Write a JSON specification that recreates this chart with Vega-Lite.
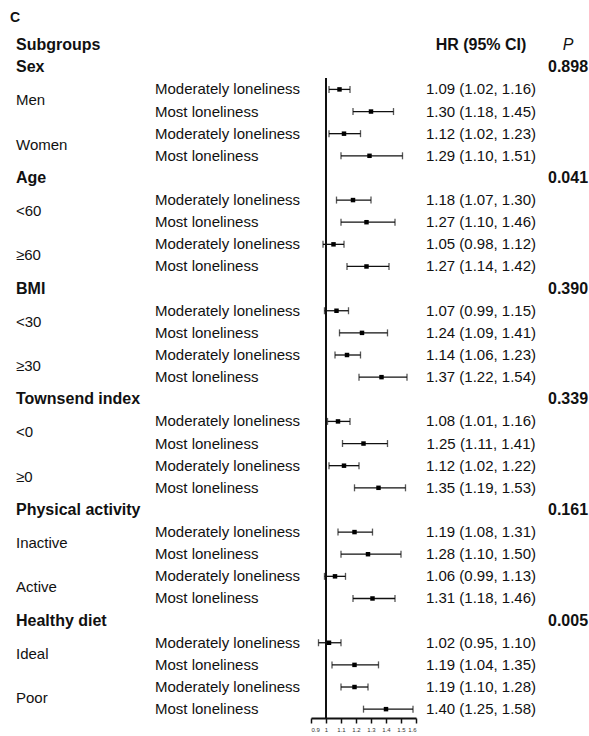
{
  "$schema": "https://vega.github.io/schema/vega-lite/v6.json",
  "padding": {"top": 11, "left": 0, "right": 0, "bottom": 0},
  "background": "white",
  "title": {"text": "C", "anchor": "start", "fontSize": 14, "fontWeight": "bold", "font": "Liberation Sans", "color": "#111", "dx": 10, "dy": 2, "offset": 0},
  "config": {
    "view": {"stroke": null},
    "text": {"font": "Liberation Sans", "color": "#111", "baseline": "middle"},
    "concat": {"spacing": 0}
  },
  "datasets": {
    "rows": [
      {"row": 0, "kind": "header", "section": "Subgroups"},
      {"row": 1, "kind": "section", "section": "Sex", "p": "0.898"},
      {"row": 2, "kind": "est", "section": "Sex", "group": "Men", "category": "Moderately loneliness", "hr": 1.09, "lo": 1.02, "hi": 1.16, "label": "1.09 (1.02, 1.16)"},
      {"row": 3, "kind": "est", "section": "Sex", "group": "Men", "category": "Most loneliness", "hr": 1.30, "lo": 1.18, "hi": 1.45, "label": "1.30 (1.18, 1.45)"},
      {"row": 4, "kind": "est", "section": "Sex", "group": "Women", "category": "Moderately loneliness", "hr": 1.12, "lo": 1.02, "hi": 1.23, "label": "1.12 (1.02, 1.23)"},
      {"row": 5, "kind": "est", "section": "Sex", "group": "Women", "category": "Most loneliness", "hr": 1.29, "lo": 1.10, "hi": 1.51, "label": "1.29 (1.10, 1.51)"},
      {"row": 6, "kind": "section", "section": "Age", "p": "0.041"},
      {"row": 7, "kind": "est", "section": "Age", "group": "<60", "category": "Moderately loneliness", "hr": 1.18, "lo": 1.07, "hi": 1.30, "label": "1.18 (1.07, 1.30)"},
      {"row": 8, "kind": "est", "section": "Age", "group": "<60", "category": "Most loneliness", "hr": 1.27, "lo": 1.10, "hi": 1.46, "label": "1.27 (1.10, 1.46)"},
      {"row": 9, "kind": "est", "section": "Age", "group": "≥60", "category": "Moderately loneliness", "hr": 1.05, "lo": 0.98, "hi": 1.12, "label": "1.05 (0.98, 1.12)"},
      {"row": 10, "kind": "est", "section": "Age", "group": "≥60", "category": "Most loneliness", "hr": 1.27, "lo": 1.14, "hi": 1.42, "label": "1.27 (1.14, 1.42)"},
      {"row": 11, "kind": "section", "section": "BMI", "p": "0.390"},
      {"row": 12, "kind": "est", "section": "BMI", "group": "<30", "category": "Moderately loneliness", "hr": 1.07, "lo": 0.99, "hi": 1.15, "label": "1.07 (0.99, 1.15)"},
      {"row": 13, "kind": "est", "section": "BMI", "group": "<30", "category": "Most loneliness", "hr": 1.24, "lo": 1.09, "hi": 1.41, "label": "1.24 (1.09, 1.41)"},
      {"row": 14, "kind": "est", "section": "BMI", "group": "≥30", "category": "Moderately loneliness", "hr": 1.14, "lo": 1.06, "hi": 1.23, "label": "1.14 (1.06, 1.23)"},
      {"row": 15, "kind": "est", "section": "BMI", "group": "≥30", "category": "Most loneliness", "hr": 1.37, "lo": 1.22, "hi": 1.54, "label": "1.37 (1.22, 1.54)"},
      {"row": 16, "kind": "section", "section": "Townsend index", "p": "0.339"},
      {"row": 17, "kind": "est", "section": "Townsend index", "group": "<0", "category": "Moderately loneliness", "hr": 1.08, "lo": 1.01, "hi": 1.16, "label": "1.08 (1.01, 1.16)"},
      {"row": 18, "kind": "est", "section": "Townsend index", "group": "<0", "category": "Most loneliness", "hr": 1.25, "lo": 1.11, "hi": 1.41, "label": "1.25 (1.11, 1.41)"},
      {"row": 19, "kind": "est", "section": "Townsend index", "group": "≥0", "category": "Moderately loneliness", "hr": 1.12, "lo": 1.02, "hi": 1.22, "label": "1.12 (1.02, 1.22)"},
      {"row": 20, "kind": "est", "section": "Townsend index", "group": "≥0", "category": "Most loneliness", "hr": 1.35, "lo": 1.19, "hi": 1.53, "label": "1.35 (1.19, 1.53)"},
      {"row": 21, "kind": "section", "section": "Physical activity", "p": "0.161"},
      {"row": 22, "kind": "est", "section": "Physical activity", "group": "Inactive", "category": "Moderately loneliness", "hr": 1.19, "lo": 1.08, "hi": 1.31, "label": "1.19 (1.08, 1.31)"},
      {"row": 23, "kind": "est", "section": "Physical activity", "group": "Inactive", "category": "Most loneliness", "hr": 1.28, "lo": 1.10, "hi": 1.50, "label": "1.28 (1.10, 1.50)"},
      {"row": 24, "kind": "est", "section": "Physical activity", "group": "Active", "category": "Moderately loneliness", "hr": 1.06, "lo": 0.99, "hi": 1.13, "label": "1.06 (0.99, 1.13)"},
      {"row": 25, "kind": "est", "section": "Physical activity", "group": "Active", "category": "Most loneliness", "hr": 1.31, "lo": 1.18, "hi": 1.46, "label": "1.31 (1.18, 1.46)"},
      {"row": 26, "kind": "section", "section": "Healthy diet", "p": "0.005"},
      {"row": 27, "kind": "est", "section": "Healthy diet", "group": "Ideal", "category": "Moderately loneliness", "hr": 1.02, "lo": 0.95, "hi": 1.10, "label": "1.02 (0.95, 1.10)"},
      {"row": 28, "kind": "est", "section": "Healthy diet", "group": "Ideal", "category": "Most loneliness", "hr": 1.19, "lo": 1.04, "hi": 1.35, "label": "1.19 (1.04, 1.35)"},
      {"row": 29, "kind": "est", "section": "Healthy diet", "group": "Poor", "category": "Moderately loneliness", "hr": 1.19, "lo": 1.10, "hi": 1.28, "label": "1.19 (1.10, 1.28)"},
      {"row": 30, "kind": "est", "section": "Healthy diet", "group": "Poor", "category": "Most loneliness", "hr": 1.40, "lo": 1.25, "hi": 1.58, "label": "1.40 (1.25, 1.58)"}
    ]
  },
  "hconcat": [
    {
      "width": 155, "height": 695,
      "data": {"name": "rows"},
      "layer": [
        {
          "transform": [{"filter": "datum.kind !== 'est'"}],
          "mark": {"type": "text", "align": "left", "x": 16, "fontSize": 16, "fontWeight": "bold"},
          "encoding": {
            "y": {"field": "row", "type": "quantitative", "scale": {"domain": [-1, 30.4], "reverse": true, "nice": false, "zero": false}, "axis": null},
            "text": {"field": "section"}
          }
        },
        {
          "transform": [
            {"filter": "datum.kind === 'est'"},
            {"aggregate": [{"op": "mean", "field": "row", "as": "mid"}], "groupby": ["section", "group"]}
          ],
          "mark": {"type": "text", "align": "left", "x": 16, "fontSize": 15},
          "encoding": {
            "y": {"field": "mid", "type": "quantitative", "scale": {"domain": [-1, 30.4], "reverse": true, "nice": false, "zero": false}, "axis": null},
            "text": {"field": "group"}
          }
        }
      ]
    },
    {
      "width": 155, "height": 695,
      "data": {"name": "rows"},
      "transform": [{"filter": "datum.kind === 'est'"}],
      "mark": {"type": "text", "align": "left", "x": 0, "fontSize": 15},
      "encoding": {
        "y": {"field": "row", "type": "quantitative", "scale": {"domain": [-1, 30.4], "reverse": true, "nice": false, "zero": false}, "axis": null},
        "text": {"field": "category"}
      }
    },
    {
      "width": 105, "height": 695,
      "data": {"name": "rows"},
      "layer": [
        {
          "mark": {"type": "rule", "color": "#111", "strokeWidth": 1.6},
          "encoding": {
            "x": {"datum": 1, "type": "quantitative"},
            "y": {"datum": 1.5, "type": "quantitative"},
            "y2": {"datum": 30.4}
          }
        },
        {
          "transform": [{"filter": "datum.kind === 'est'"}],
          "mark": {"type": "rule", "color": "#111", "strokeWidth": 1.3},
          "encoding": {
            "x": {"field": "lo", "type": "quantitative"},
            "x2": {"field": "hi"},
            "y": {"field": "row", "type": "quantitative"}
          }
        },
        {
          "transform": [{"filter": "datum.kind === 'est'"}],
          "mark": {"type": "tick", "orient": "vertical", "color": "#111", "size": 7, "thickness": 1.3},
          "encoding": {
            "x": {"field": "lo", "type": "quantitative"},
            "y": {"field": "row", "type": "quantitative"}
          }
        },
        {
          "transform": [{"filter": "datum.kind === 'est'"}],
          "mark": {"type": "tick", "orient": "vertical", "color": "#111", "size": 7, "thickness": 1.3},
          "encoding": {
            "x": {"field": "hi", "type": "quantitative"},
            "y": {"field": "row", "type": "quantitative"}
          }
        },
        {
          "transform": [{"filter": "datum.kind === 'est'"}],
          "mark": {"type": "square", "color": "#000", "filled": true, "opacity": 1, "size": 20},
          "encoding": {
            "x": {"field": "hr", "type": "quantitative"},
            "y": {"field": "row", "type": "quantitative"}
          }
        }
      ],
      "encoding": {
        "x": {
          "type": "quantitative",
          "scale": {"domain": [0.9, 1.6], "nice": false, "zero": false},
          "axis": {"values": [0.9, 1, 1.1, 1.2, 1.3, 1.4, 1.5, 1.6], "format": ".1~f", "title": null, "grid": false, "domainColor": "#111", "domainWidth": 1.8, "tickColor": "#111", "tickWidth": 1.5, "tickSize": 5, "labelFontSize": 6, "labelColor": "#333", "labelFont": "Liberation Sans", "labelPadding": 3}
        },
        "y": {"type": "quantitative", "scale": {"domain": [-1, 30.4], "reverse": true, "nice": false, "zero": false}, "axis": null}
      }
    },
    {
      "width": 128, "height": 695,
      "data": {"name": "rows"},
      "layer": [
        {
          "transform": [{"filter": "datum.kind === 'header'"}],
          "mark": {"type": "text", "align": "center", "fontSize": 16, "fontWeight": "bold", "text": "HR (95% CI)"},
          "encoding": {
            "y": {"field": "row", "type": "quantitative", "scale": {"domain": [-1, 30.4], "reverse": true, "nice": false, "zero": false}, "axis": null}
          }
        },
        {
          "transform": [{"filter": "datum.kind === 'est'"}],
          "mark": {"type": "text", "align": "center", "fontSize": 15},
          "encoding": {
            "y": {"field": "row", "type": "quantitative", "scale": {"domain": [-1, 30.4], "reverse": true, "nice": false, "zero": false}, "axis": null},
            "text": {"field": "label"}
          }
        }
      ]
    },
    {
      "width": 46, "height": 695,
      "data": {"name": "rows"},
      "layer": [
        {
          "transform": [{"filter": "datum.kind === 'header'"}],
          "mark": {"type": "text", "align": "center", "fontSize": 16, "fontStyle": "italic", "text": "P"},
          "encoding": {
            "y": {"field": "row", "type": "quantitative", "scale": {"domain": [-1, 30.4], "reverse": true, "nice": false, "zero": false}, "axis": null}
          }
        },
        {
          "transform": [{"filter": "datum.kind === 'section'"}],
          "mark": {"type": "text", "align": "center", "fontSize": 16, "fontWeight": "bold"},
          "encoding": {
            "y": {"field": "row", "type": "quantitative", "scale": {"domain": [-1, 30.4], "reverse": true, "nice": false, "zero": false}, "axis": null},
            "text": {"field": "p"}
          }
        }
      ]
    }
  ]
}
